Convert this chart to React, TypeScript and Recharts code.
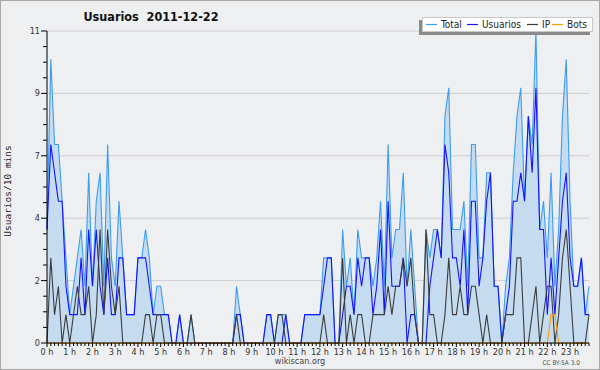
import React from 'react';
import { ComposedChart, Area, Line, XAxis, YAxis, CartesianGrid } from 'recharts';

// 10-minute slots, 0 h .. 23 h 50
const usuarios = [
  4, 7, 6, 5, 5, 2, 1, 1, 1, 3, 1, 4, 2, 4, 2, 1, 3, 1, 1, 3, 3, 1, 1, 1,
  3, 3, 3, 2, 1, 1, 1, 1, 1, 0, 0, 1, 0, 0, 0, 0, 0, 0, 0, 0, 0, 0, 0, 0,
  0, 0, 1, 1, 0, 0, 0, 0, 0, 0, 1, 1, 0, 0, 0, 1, 0, 0, 0, 0, 1, 1, 1, 1,
  1, 2, 3, 3, 0, 0, 1, 2, 2, 1, 3, 2, 3, 3, 1, 2, 4, 1, 5, 2, 2, 2, 3, 0,
  1, 1, 0, 0, 0, 2, 3, 4, 3, 7, 6, 3, 3, 2, 4, 1, 5, 5, 2, 3, 5, 6, 2, 2,
  0, 1, 2, 5, 5, 6, 5, 8, 6, 9, 4, 4, 1, 3, 1, 3, 5, 6, 3, 2, 2, 3, 1, 1,
];
const ip = [
  0, 3, 1, 2, 0, 1, 0, 1, 2, 1, 1, 2, 0, 1, 4, 1, 4, 2, 1, 2, 0, 0, 0, 0,
  0, 0, 1, 1, 0, 1, 1, 0, 0, 0, 0, 0, 0, 0, 1, 0, 0, 0, 0, 0, 0, 0, 0, 0,
  0, 0, 1, 0, 0, 0, 0, 0, 0, 0, 0, 0, 0, 1, 1, 0, 0, 0, 0, 0, 0, 0, 0, 0,
  0, 1, 0, 0, 0, 0, 3, 0, 1, 0, 1, 1, 0, 0, 1, 1, 1, 1, 2, 1, 2, 2, 3, 2,
  3, 1, 0, 0, 4, 1, 1, 0, 0, 1, 3, 1, 1, 2, 1, 1, 2, 2, 1, 0, 1, 0, 0, 0,
  0, 1, 1, 1, 3, 3, 0, 0, 1, 2, 0, 1, 2, 2, 0, 1, 3, 4, 2, 0, 0, 0, 0, 1,
];
const bots = [
  0, 0, 0, 0, 0, 0, 0, 0, 0, 0, 0, 0, 0, 0, 0, 0, 0, 0, 0, 0, 0, 0, 0, 0,
  0, 0, 0, 0, 0, 0, 0, 0, 0, 0, 0, 0, 0, 0, 0, 0, 0, 0, 0, 0, 0, 0, 0, 0,
  0, 0, 0, 0, 0, 0, 0, 0, 0, 0, 0, 0, 0, 0, 0, 0, 0, 0, 0, 0, 0, 0, 0, 0,
  0, 0, 0, 0, 0, 0, 0, 0, 0, 0, 0, 0, 0, 0, 0, 0, 0, 0, 0, 0, 0, 0, 0, 0,
  0, 0, 0, 0, 0, 0, 0, 0, 0, 0, 0, 0, 0, 0, 0, 0, 0, 0, 0, 0, 0, 0, 0, 0,
  0, 0, 0, 0, 0, 0, 0, 0, 0, 0, 0, 0, 0, 1, 1, 0, 0, 0, 0, 0, 0, 0, 0, 0,
];
const total = [
  4, 10, 7, 7, 5, 3, 1, 2, 3, 4, 2, 6, 2, 5, 6, 2, 7, 3, 2, 5, 3, 1, 1, 1,
  3, 3, 4, 3, 1, 2, 2, 1, 1, 0, 0, 1, 0, 0, 1, 0, 0, 0, 0, 0, 0, 0, 0, 0,
  0, 0, 2, 1, 0, 0, 0, 0, 0, 0, 1, 1, 0, 1, 1, 1, 0, 0, 0, 0, 1, 1, 1, 1,
  1, 3, 3, 3, 0, 0, 4, 2, 3, 1, 4, 3, 3, 3, 2, 3, 5, 2, 7, 3, 4, 4, 6, 2,
  4, 2, 0, 0, 4, 3, 4, 4, 3, 8, 9, 4, 4, 4, 5, 2, 7, 7, 3, 3, 6, 6, 2, 2,
  0, 2, 3, 6, 8, 9, 5, 8, 7, 11, 4, 5, 3, 6, 2, 4, 8, 10, 5, 2, 2, 3, 1, 2,
];

const yMajorTicks = [0, 2.2, 4.4, 6.6, 8.8, 11];
const yAllTicks = Array.from({ length: 21 }, (_, k) => +(k * 0.55).toFixed(2));
const xTicks = total.map((_, i) => i);
const hourLabels = Array.from({ length: 24 }, (_, h) => `${h} h`);

const titleText = 'Usuarios  2011-12-22';
const yLabelText = 'Usuarios/10 mins';
const siteText = 'wikiscan.org';
const licenseText = 'CC BY-SA 3.0';

const legendNames = ['Total', 'Usuarios', 'IP', 'Bots'];
const COLORS = { total: '#3d9cf0', fill: '#c5dcf0', usuarios: '#1414ff', ip: '#3c3c3c', bots: '#ff9c00' };

const data = total.map((t, i) => ({ i, total: t, usuarios: usuarios[i], ip: ip[i], bots: bots[i] }));

const FONT = "'DejaVu Sans Condensed', 'DejaVu Sans', sans-serif";

const XTick = (props: any) => {
  const { x, y, payload } = props;
  const v = payload.value as number;
  const isHour = v % 6 === 0;
  return (
    <g>
      <line x1={x} y1={y} x2={x} y2={y + (isHour ? 4 : 3)} stroke="#000" strokeWidth={1} />
      {isHour && (
        <text x={x} y={y + 12} textAnchor="middle" fontSize={9} fill="#333" style={{ fontFamily: FONT, fontStretch: 'condensed' }}>
          {hourLabels[v / 6]}
        </text>
      )}
    </g>
  );
};

const YTick = (props: any) => {
  const { x, y, payload, index } = props;
  const isMajor = index % 4 === 0;
  return (
    <g>
      <line x1={x - (isMajor ? 6 : 4)} y1={y} x2={x} y2={y} stroke="#000" strokeWidth={1} />
      {isMajor && (
        <text x={x - 7} y={y + 3} textAnchor="end" fontSize={9} fill="#333" style={{ fontFamily: FONT, fontStretch: 'condensed' }}>
          {Math.round(payload.value)}
        </text>
      )}
    </g>
  );
};

export default function App() {
  const legendColors = [COLORS.total, COLORS.usuarios, COLORS.ip, COLORS.bots];
  const legendX = [426, 467, 527, 552];
  return (
    <div style={{ position: 'absolute', left: 0, top: 0, width: 600, height: 370, background: '#eeeff1' }}>
      <ComposedChart width={600} height={370} data={data} margin={{ top: 31, right: 11, bottom: 0, left: 0 }}>
        <CartesianGrid horizontal vertical={false} horizontalValues={yMajorTicks} stroke="#cdced1" strokeWidth={1} />
        <Area type="linear" dataKey="total" stroke={COLORS.total} strokeWidth={1.1} fill={COLORS.fill} fillOpacity={1} dot={false} activeDot={false} isAnimationActive={false} />
        <Line type="linear" dataKey="usuarios" stroke={COLORS.usuarios} strokeWidth={1.1} dot={false} activeDot={false} isAnimationActive={false} />
        <Line type="linear" dataKey="ip" stroke={COLORS.ip} strokeWidth={1.1} dot={false} activeDot={false} isAnimationActive={false} />
        <Line type="linear" dataKey="bots" stroke={COLORS.bots} strokeWidth={1.1} dot={false} activeDot={false} isAnimationActive={false} />
        <XAxis dataKey="i" type="number" domain={[0, 143]} ticks={xTicks} interval={0} tickSize={0} tickMargin={0} tick={<XTick />} height={27} stroke="#000" />
        <YAxis type="number" domain={[0, 11]} ticks={yAllTicks} interval={0} tickSize={0} tickMargin={0} tick={<YTick />} width={47} stroke="#000" />
      </ComposedChart>
      <svg width={600} height={370} style={{ position: 'absolute', left: 0, top: 0, pointerEvents: 'none' }}>
        <rect x={0.5} y={0.5} width={599} height={369} fill="none" stroke="#a8a8a8" />
        <text x={151} y={21} textAnchor="middle" fontSize={12.5} fontWeight="bold" fill="#111" style={{ fontFamily: FONT, fontStretch: 'condensed', whiteSpace: 'pre' }}>
          {titleText}
        </text>
        <text transform="translate(11,191) rotate(-90)" textAnchor="middle" fontSize={9.5} fill="#222" style={{ fontFamily: "'DejaVu Sans Mono', monospace" }}>
          {yLabelText}
        </text>
        <text x={300} y={364} textAnchor="middle" fontSize={9} fill="#444" style={{ fontFamily: FONT, fontStretch: 'condensed' }}>
          {siteText}
        </text>
        <text x={580} y={365} textAnchor="end" fontSize={6.5} fill="#555" style={{ fontFamily: FONT, fontStretch: 'condensed' }}>
          {licenseText}
        </text>
        <rect x={419} y={20} width={171} height={15} fill="#8a8a8a" />
        <rect x={422.5} y={17.5} width={170} height={14} fill="#fff" stroke="#c8c8c8" />
        {legendNames.map((n, k) => (
          <g key={n}>
            <line x1={legendX[k]} y1={24.5} x2={legendX[k] + 11} y2={24.5} stroke={legendColors[k]} strokeWidth={1.2} />
            <text x={legendX[k] + 15} y={28} fontSize={10} fill="#222" style={{ fontFamily: FONT, fontStretch: 'condensed' }}>
              {n}
            </text>
          </g>
        ))}
      </svg>
    </div>
  );
}
